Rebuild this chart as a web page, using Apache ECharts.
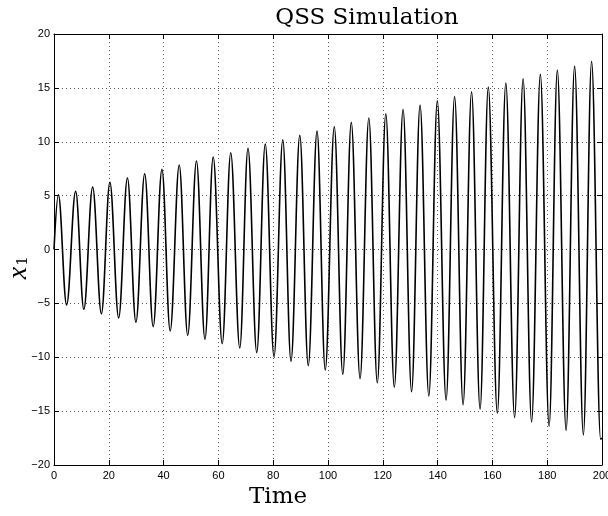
<!DOCTYPE html>
<html lang="en">

<head>
  <meta charset="UTF-8">
  <title>QSS Simulation</title>
  <script src="https://cdn.jsdelivr.net/npm/echarts@6/dist/echarts.min.js"></script>
</head>

<body style="margin:0;background:#fff;">
  <div id="main" style="width: 608px; height: 516px;"></div>
  <script>
    // 读图得到的极值点（时间, x1）
    var peakTimes = [1.6, 7.9, 14.1, 20.4, 26.8, 33.1, 39.4, 45.7, 52.0, 58.1, 64.5, 70.8, 77.1, 83.5, 89.7, 96.0,
      102.3, 108.5, 114.9, 121.1, 127.4, 133.6, 139.9, 146.2, 152.4, 158.5, 164.9, 171.2, 177.5, 183.7, 190.0, 196.2]
    var peakValues = [5.08, 5.40, 5.80, 6.23, 6.63, 7.03, 7.44, 7.84, 8.21, 8.58, 8.98, 9.39, 9.79, 10.19, 10.59, 10.99,
      11.39, 11.80, 12.20, 12.60, 13.00, 13.40, 13.80, 14.20, 14.64, 15.07, 15.45, 15.84, 16.25, 16.65, 17.02, 17.46]
    var troughTimes = [4.6, 10.9, 17.3, 23.6, 29.9, 36.2, 42.4, 48.8, 55.1, 61.4, 67.8, 74.0, 80.3, 86.5, 92.8, 99.0,
      105.4, 111.7, 118.0, 124.2, 130.5, 136.8, 143.1, 149.3, 155.5, 161.8, 168.1, 174.3, 180.7, 186.9, 193.2, 199.5]
    var troughValues = [-5.15, -5.55, -5.96, -6.35, -6.75, -7.16, -7.56, -7.96, -8.33, -8.74, -9.14, -9.57, -9.94, -10.37, -10.78, -11.18,
      -11.58, -11.98, -12.38, -12.78, -13.19, -13.59, -13.99, -14.40, -14.82, -15.20, -15.60, -16.00, -16.40, -16.80, -17.20, -17.60]
    var startPoint = [0, 0]
    var endPoint = [200, -17.5]

    var xTicks = [0, 200, 20]   // min, max, interval
    var yTicks = [-20, 20, 5]

    // 按时间顺序拼成折线
    var lineData = [startPoint]
    for (var i = 0; i < peakTimes.length; i++) {
      lineData.push([peakTimes[i], peakValues[i]])
      lineData.push([troughTimes[i], troughValues[i]])
    }
    lineData.push(endPoint)

    var tickFont = { fontFamily: 'Liberation Sans', fontSize: 11, color: '#000' }
    var dotted = { show: true, lineStyle: { color: '#555', type: [1, 3], width: 1 } }
    var blackLine = { show: true, onZero: false, lineStyle: { color: '#000', width: 1 } }
    var inTick = { show: true, inside: true, length: 5, lineStyle: { color: '#000', width: 1 } }

    function minusFmt(v) {
      return v < 0 ? '\u2212' + Math.abs(v) : String(v)
    }

    var myChart = echarts.init(document.getElementById('main'))
    var option = {
      animation: false,
      backgroundColor: '#fff',
      grid: { left: 54, right: 6, top: 34, bottom: 51, outerBoundsMode: 'none', containLabel: false },
      xAxis: [
        {
          type: 'value', position: 'bottom', min: xTicks[0], max: xTicks[1], interval: xTicks[2],
          axisLine: blackLine, axisTick: inTick, splitLine: dotted,
          axisLabel: Object.assign({ margin: 5 }, tickFont)
        },
        {
          type: 'value', position: 'top', min: xTicks[0], max: xTicks[1], interval: xTicks[2],
          axisLine: blackLine, axisTick: inTick, splitLine: { show: false }, axisLabel: { show: false }
        }
      ],
      yAxis: [
        {
          type: 'value', position: 'left', min: yTicks[0], max: yTicks[1], interval: yTicks[2],
          axisLine: blackLine, axisTick: inTick, splitLine: dotted,
          axisLabel: Object.assign({ margin: 4, formatter: minusFmt }, tickFont)
        },
        {
          type: 'value', position: 'right', min: yTicks[0], max: yTicks[1], interval: yTicks[2],
          axisLine: blackLine, axisTick: inTick, splitLine: { show: false }, axisLabel: { show: false }
        }
      ],
      graphic: [
        {
          type: 'text', x: 367, y: 18,
          style: { text: 'QSS Simulation', fontFamily: 'DejaVu Serif', fontSize: 23, fill: '#000', align: 'center', verticalAlign: 'middle' }
        },
        {
          type: 'text', x: 278, y: 497,
          style: { text: 'Time', fontFamily: 'DejaVu Serif', fontSize: 23, fill: '#000', align: 'center', verticalAlign: 'middle' }
        },
        {
          type: 'group', x: 19, y: 268, rotation: Math.PI / 2,
          children: [
            { type: 'text', x: -5, y: 0, style: { text: 'x', fontFamily: 'Liberation Serif', fontStyle: 'italic', fontSize: 28, fill: '#000', align: 'center', verticalAlign: 'middle' } },
            { type: 'text', x: 7, y: 4, style: { text: '1', fontFamily: 'DejaVu Serif', fontSize: 15, fill: '#000', align: 'center', verticalAlign: 'middle' } }
          ]
        }
      ],
      series: [
        {
          name: 'x1',
          type: 'line',
          data: lineData,
          showSymbol: false,
          smooth: 0.37,
          smoothMonotone: 'x',
          lineStyle: { color: '#000', width: 1.6 }
        }
      ]
    }
    myChart.setOption(option)
  </script>
</body>

</html>
